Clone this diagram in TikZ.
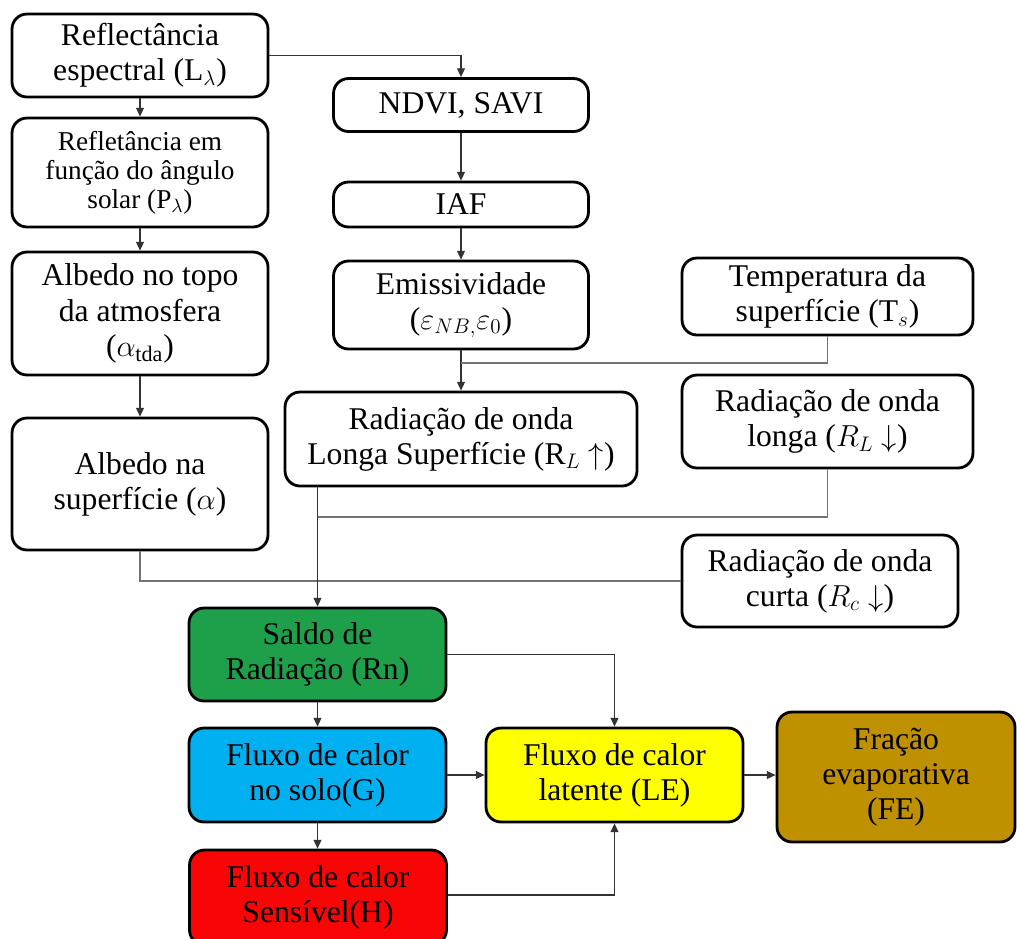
\documentclass[tikz,border=0pt]{standalone}
\usepackage{fontspec}
\setmainfont{Liberation Serif}
\usetikzlibrary{arrows.meta}

\definecolor{verdeRn}{RGB}{30,160,75}
\definecolor{azulG}{RGB}{0,176,240}
\definecolor{vermelhoH}{RGB}{250,5,5}
\definecolor{amareloLE}{RGB}{255,255,0}
\definecolor{ouroFE}{RGB}{191,144,0}

\begin{document}
\begin{tikzpicture}[x=0.02cm, y=-0.02cm, >={Triangle[length=5pt, width=4.5pt]},
	caixa/.style={draw, line width=1.6pt, rounded corners=0.3cm, align=center, inner sep=0pt,
		font=\fontsize{18}{20}\selectfont},
	seta/.style={->, draw=black!80, line width=0.7pt},
	linha/.style={draw=black!55, line width=0.7pt}]
	
	\useasboundingbox (0,0) rectangle (1017,938);
	
	% ================= coluna esquerda: albedo =================
	\node[caixa, minimum width=5.12cm, minimum height=1.66cm] (refl) at (140,55.5) {Reflectância\\espectral (L$_\lambda$)};
	\node[caixa, minimum width=5.12cm, minimum height=2.18cm, font=\fontsize{15.5}{16.5}\selectfont] (angulo) at (140,172.5) {Refletância em\\função do ângulo\\solar (P$_\lambda$)};
	\node[caixa, minimum width=5.12cm, minimum height=2.46cm] (albtopo) at (140,313.5) {Albedo no topo\\da atmosfera\\($\alpha_{\mathrm{tda}}$)};
	\node[caixa, minimum width=5.12cm, minimum height=2.64cm] (albsup) at (140,484) {Albedo na\\superfície ($\alpha$)};
	
	% ================= coluna central: índices e emissividade =================
	\node[caixa, minimum width=5.1cm, minimum height=1.06cm] (ndvi) at (461,105) {NDVI, SAVI};
	\node[caixa, minimum width=5.1cm, minimum height=0.9cm] (iaf) at (461,204.5) {IAF};
	\node[caixa, minimum width=5.1cm, minimum height=1.76cm] (emis) at (461,305) {Emissividade\\($\varepsilon_{NB,}\varepsilon_0$)};
	\node[caixa, minimum width=7.04cm, minimum height=1.88cm] (lsup) at (461,439) {Radiação de onda\\Longa Superfície (R$_L\uparrow$)};
	
	% ================= coluna direita: entradas =================
	\node[caixa, minimum width=5.82cm, minimum height=1.54cm] (temp) at (827.5,296.5) {Temperatura da\\superfície (T$_s$)};
	\node[caixa, minimum width=5.82cm, minimum height=1.86cm] (rlonga) at (827.5,421.5) {Radiação de onda\\longa ($R_L\downarrow$)};
	\node[caixa, minimum width=5.52cm, minimum height=1.84cm] (rcurta) at (820,581) {Radiação de onda\\curta ($R_c\downarrow$)};
	
	% ================= balanço de energia =================
	\node[caixa, fill=verdeRn, minimum width=5.14cm, minimum height=1.86cm] (saldo) at (317.5,654.5) {Saldo de\\Radiação (Rn)};
	\node[caixa, fill=azulG, minimum width=5.14cm, minimum height=1.88cm] (solo) at (317.5,775) {Fluxo de calor\\no solo(G)};
	\node[caixa, fill=vermelhoH, minimum width=5.14cm, minimum height=1.9cm] (sensivel) at (318,897.5) {Fluxo de calor\\Sensível(H)};
	\node[caixa, fill=amareloLE, minimum width=5.14cm, minimum height=1.88cm] (latente) at (614.5,775) {Fluxo de calor\\latente (LE)};
	\node[caixa, fill=ouroFE, minimum width=4.76cm, minimum height=2.6cm] (fracao) at (896,777) {Fração\\evaporativa\\(FE)};
	
	% pontos de junção
	\coordinate (j1) at (461,363);
	\coordinate (j2) at (318,517);
	
	% ligações
	\draw[seta] (refl.south) -- (angulo.north);
	\draw[seta] (angulo.south) -- (albtopo.north);
	\draw[seta] (albtopo.south) -- (albsup.north);
	\draw[seta] (refl.east) -| (ndvi.north);
	\draw[seta] (ndvi.south) -- (iaf.north);
	\draw[seta] (iaf.south) -- (emis.north);
	\draw[seta] (emis.south) -- (lsup.north);
	\draw[linha] (temp.south) |- (j1);
	\draw[linha] (rlonga.south) |- (j2);
	\draw[linha] (albsup.south) |- (rcurta.west);
	\draw[seta] (lsup.south -| saldo.north) -- (saldo.north);
	\draw[seta] (saldo.south) -- (solo.north);
	\draw[seta] (solo.south) -- (sensivel.north -| solo.south);
	\draw[seta] (saldo.east) -| (latente.north);
	\draw[seta] (solo.east) -- (latente.west);
	\draw[seta] (sensivel.east |- 0,895) -| (latente.south);
	\draw[seta] (latente.east) -- (fracao.west |- latente.east);
	
\end{tikzpicture}
\end{document}
